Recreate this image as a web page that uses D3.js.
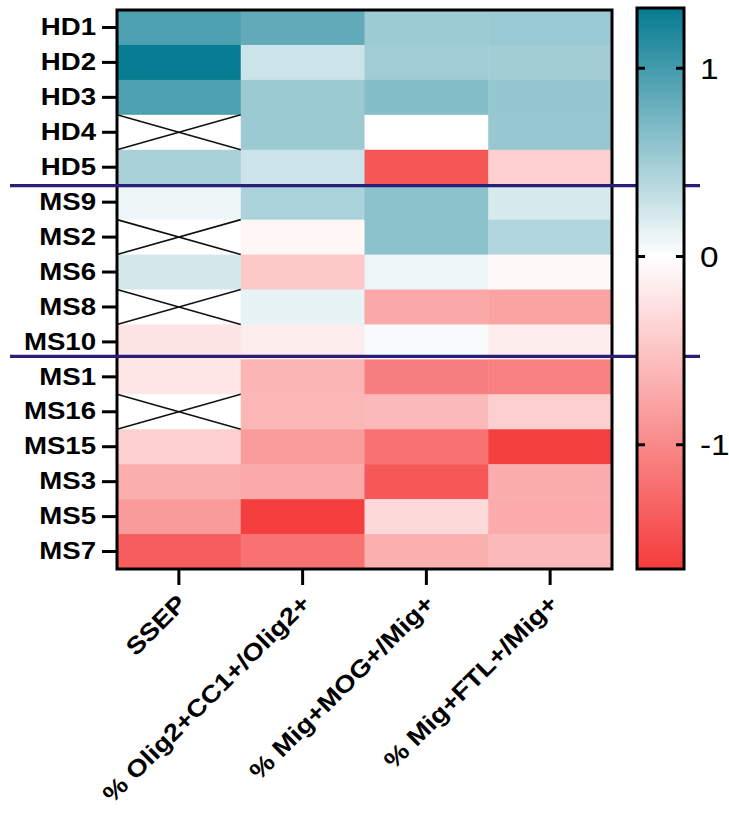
<!DOCTYPE html>
<html>
<head>
<meta charset="utf-8">
<script src="https://cdn.jsdelivr.net/npm/d3@7"></script>
<style>
  html, body { margin: 0; padding: 0; background: #fff; }
  svg { display: block; }
</style>
</head>
<body>
<div id="chart"></div>
<script>
// ---------------- data ----------------
const rows = ["HD1","HD2","HD3","HD4","HD5","MS9","MS2","MS6","MS8","MS10","MS1","MS16","MS15","MS3","MS5","MS7"];
const columns = ["SSEP","% Olig2+CC1+/Olig2+","% Mig+MOG+/Mig+","% Mig+FTL+/Mig+"];
// values per column (one entry per row); null = missing (crossed cell)
const ssep      = [0.95, 1.31, 0.95, null, 0.46, 0.09, null, 0.23, null, -0.22, -0.21, null, -0.40, -0.69, -0.85, -1.37];
const olig2cc1  = [0.84, 0.27, 0.53, 0.53, 0.27, 0.45, -0.08, -0.47, 0.12, -0.15, -0.63, -0.62, -0.84, -0.72, -1.63, -1.19];
const migMOG    = [0.52, 0.51, 0.65, 0.00, -1.43, 0.61, 0.61, 0.10, -0.74, 0.04, -1.08, -0.59, -1.19, -1.42, -0.32, -0.67];
const migFTL    = [0.54, 0.50, 0.56, 0.55, -0.40, 0.21, 0.41, -0.06, -0.78, -0.15, -1.07, -0.40, -1.62, -0.70, -0.71, -0.59];
const seriesValues = [ssep, olig2cc1, migMOG, migFTL];
const colorDomain = [-1.66, 0, 1.32];
const colorTicks = [-1, 0, 1];
const groupSeparatorsBefore = ["MS9", "MS1"];

// ---------------- layout ----------------
const W = 729, H = 814;
const plot = { left: 117, right: 612, top: 10, bottom: 569 };
const cbar = { left: 637, right: 684, top: 8, bottom: 569 };
const STRETCH = 1.15;

const svg = d3.select("#chart").append("svg").attr("width", W).attr("height", H);
svg.append("rect").attr("width", W).attr("height", H).attr("fill", "#fff");

const x = d3.scaleBand().domain(columns).range([plot.left, plot.right]);
const y = d3.scaleBand().domain(rows).range([plot.top, plot.bottom]);
const color = d3.scaleLinear().domain(colorDomain).range(["#f53b3b", "#ffffff", "#067b91"]).clamp(true);

const cells = [];
columns.forEach((c, ci) => rows.forEach((r, ri) => cells.push({ c, r, v: seriesValues[ci][ri] })));

const g = svg.append("g");
g.selectAll("rect.cell").data(cells).join("rect")
  .attr("class", "cell")
  .attr("x", d => x(d.c)).attr("y", d => y(d.r))
  .attr("width", x.bandwidth() + 0.5).attr("height", y.bandwidth() + 0.5)
  .attr("fill", d => d.v == null ? "#fff" : color(d.v));

const missing = cells.filter(d => d.v == null);
g.selectAll("line.x1").data(missing).join("line")
  .attr("x1", d => x(d.c)).attr("y1", d => y(d.r))
  .attr("x2", d => x(d.c) + x.bandwidth()).attr("y2", d => y(d.r) + y.bandwidth())
  .attr("stroke", "#111").attr("stroke-width", 1.6);
g.selectAll("line.x2").data(missing).join("line")
  .attr("x1", d => x(d.c)).attr("y1", d => y(d.r) + y.bandwidth())
  .attr("x2", d => x(d.c) + x.bandwidth()).attr("y2", d => y(d.r))
  .attr("stroke", "#111").attr("stroke-width", 1.6);

// frame
svg.append("rect")
  .attr("x", plot.left).attr("y", plot.top)
  .attr("width", plot.right - plot.left).attr("height", plot.bottom - plot.top)
  .attr("fill", "none").attr("stroke", "#000").attr("stroke-width", 3);

// left axis
const yAxis = svg.append("g").attr("transform", `translate(${plot.left - 1},0)`)
  .call(d3.axisLeft(y).tickSize(14).tickSizeOuter(0).tickPadding(6));
yAxis.select(".domain").remove();
yAxis.selectAll("line").attr("stroke", "#000").attr("stroke-width", 3);
yAxis.selectAll("text")
  .attr("font-family", "'Liberation Sans', Arial, sans-serif")
  .attr("font-weight", "bold").attr("font-size", 24).attr("fill", "#000")
  .attr("x", -20 / STRETCH)
  .attr("transform", `scale(${STRETCH},1)`);

// bottom axis
const xAxis = svg.append("g").attr("transform", `translate(0,${plot.bottom + 1})`)
  .call(d3.axisBottom(x).tickSize(15).tickSizeOuter(0));
xAxis.select(".domain").remove();
xAxis.selectAll("line").attr("stroke", "#000").attr("stroke-width", 3);
xAxis.selectAll("text")
  .attr("font-family", "'Liberation Sans', Arial, sans-serif")
  .attr("font-weight", "bold").attr("font-size", 24).attr("fill", "#000")
  .attr("text-anchor", "end")
  .attr("x", null).attr("y", null).attr("dy", null)
  .attr("transform", `translate(9,35) rotate(-45) scale(${STRETCH},1)`);

// group separators
svg.selectAll("line.sep").data(groupSeparatorsBefore).join("line")
  .attr("class", "sep")
  .attr("x1", 10).attr("x2", 700)
  .attr("y1", (d, i) => y(d) + (i === 0 ? 1 : -3))
  .attr("y2", (d, i) => y(d) + (i === 0 ? 1 : -3))
  .attr("stroke", "#2a1e78").attr("stroke-width", 3.2);

// colour bar
const cy = d3.scaleLinear().domain([colorDomain[0], colorDomain[2]]).range([cbar.bottom, cbar.top]);
const defs = svg.append("defs");
const grad = defs.append("linearGradient").attr("id", "cbgrad")
  .attr("x1", 0).attr("y1", 1).attr("x2", 0).attr("y2", 0);
colorDomain.forEach(v => grad.append("stop")
  .attr("offset", (v - colorDomain[0]) / (colorDomain[2] - colorDomain[0]))
  .attr("stop-color", color(v)));
svg.append("rect")
  .attr("x", cbar.left).attr("y", cbar.top)
  .attr("width", cbar.right - cbar.left).attr("height", cbar.bottom - cbar.top)
  .attr("fill", "url(#cbgrad)").attr("stroke", "#000").attr("stroke-width", 3);

const cbTicks = svg.append("g");
cbTicks.selectAll("line.l").data(colorTicks).join("line")
  .attr("x1", cbar.left).attr("x2", cbar.left + 8)
  .attr("y1", d => cy(d)).attr("y2", d => cy(d))
  .attr("stroke", "#000").attr("stroke-width", 3);
cbTicks.selectAll("line.r").data(colorTicks).join("line")
  .attr("x1", cbar.right - 8).attr("x2", cbar.right)
  .attr("y1", d => cy(d)).attr("y2", d => cy(d))
  .attr("stroke", "#000").attr("stroke-width", 3);
cbTicks.selectAll("text").data(colorTicks).join("text")
  .attr("transform", d => `translate(700,${cy(d)}) scale(${STRETCH},1)`)
  .attr("dy", "0.36em")
  .attr("font-family", "'Liberation Sans', Arial, sans-serif")
  .attr("font-size", 29).attr("fill", "#000")
  .text(d => d < 0 ? "-" + Math.abs(d) : d);
</script>
</body>
</html>
